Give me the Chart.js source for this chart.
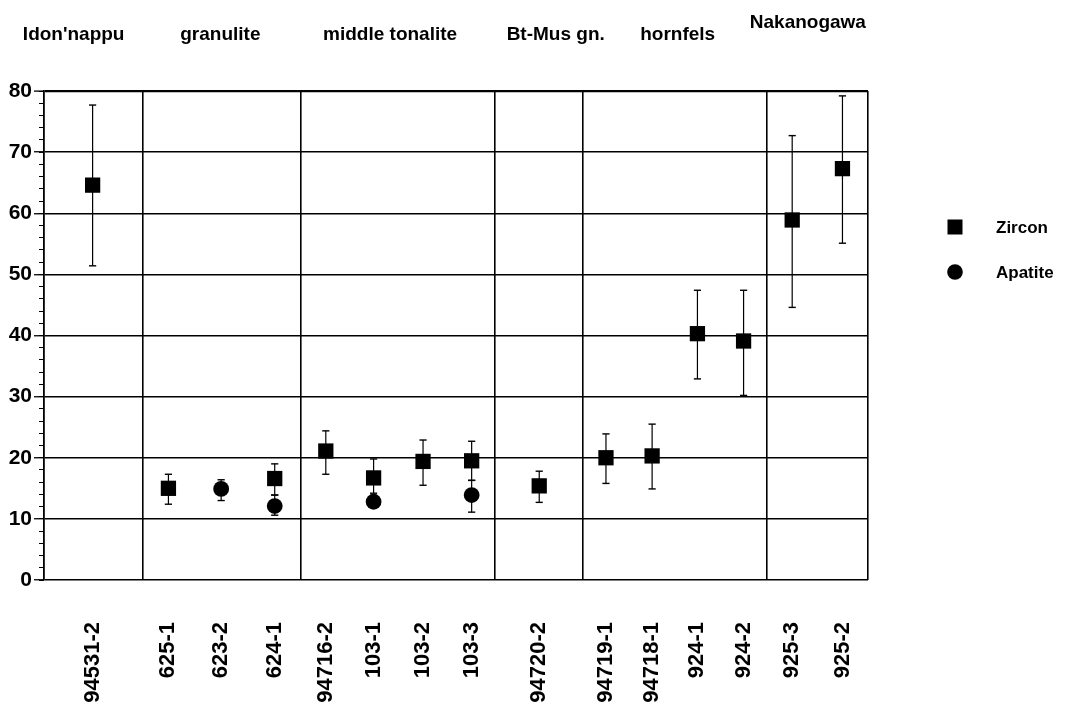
<!DOCTYPE html>
<html>
<head>
<meta charset="utf-8">
<script src="https://cdn.jsdelivr.net/npm/chart.js@4.4.1/dist/chart.umd.min.js"></script>
<style>
  html, body { margin: 0; padding: 0; background: #fff; }
  #wrap { width: 1066px; height: 705px; }
</style>
</head>
<body>
<div id="wrap"><canvas id="myChart" width="1066" height="705"></canvas></div>
<script>
// sample names along the bottom axis, and where they sit (axis units 0-100)
var sampleLabels = ["94531-2", "625-1", "623-2", "624-1", "94716-2", "103-1", "103-2", "103-3",
  "94720-2", "94719-1", "94718-1", "924-1", "924-2", "925-3", "925-2"];
var sampleX = [5.9, 15.1, 21.5, 28.0, 34.2, 40.0, 46.0, 51.9, 60.1, 68.2, 73.8, 79.3, 84.9, 90.8, 96.9];

// Zircon ages with error range
var zircon = [64.6, 15.0, null, 16.6, 21.1, 16.7, 19.4, 19.5, 15.4, 20.0, 20.3, 40.3, 39.1, 58.9, 67.3];
var zirconLow = [51.4, 12.4, null, 13.9, 17.3, 14.2, 15.5, 16.3, 12.7, 15.8, 14.9, 32.9, 30.2, 44.6, 55.1];
var zirconHigh = [77.7, 17.3, null, 19.0, 24.4, 19.8, 22.9, 22.7, 17.8, 23.9, 25.5, 47.4, 47.4, 72.7, 79.2];

// Apatite ages with error range
var apatite = [null, null, 14.9, 12.1, null, 12.8, null, 13.9, null, null, null, null, null, null, null];
var apatiteLow = [null, null, 13.0, 10.6, null, 12.0, null, 11.1, null, null, null, null, null, null, null];
var apatiteHigh = [null, null, 16.4, 13.9, null, 13.6, null, 16.3, null, null, null, null, null, null, null];

// rock groups: names on top and the separators between them
var groupNames = ["Idon'nappu", "granulite", "middle tonalite", "Bt-Mus gn.", "hornfels", "Nakanogawa"];
var groupCenter = [3.6, 21.4, 42.0, 62.1, 76.9, 92.7];
var groupBounds = [0, 11.93, 31.15, 54.73, 65.33, 87.7, 100];

var yTicks = [0, 10, 20, 30, 40, 50, 60, 70, 80];

var FONT = "'Liberation Sans', Arial, sans-serif";

function toPoints(values) {
  var pts = [];
  values.forEach(function (v, i) {
    if (v !== null) pts.push({ x: sampleX[i], y: v });
  });
  return pts;
}

function errorPoints(low, high) {
  var pts = [];
  low.forEach(function (lo, i) {
    if (lo === null) return;
    pts.push({ x: sampleX[i], y: lo }, { x: sampleX[i], y: high[i] }, { x: sampleX[i], y: null });
  });
  return pts;
}

function errorSet(low, high) {
  return {
    label: "err",
    data: errorPoints(low, high),
    showLine: true,
    spanGaps: false,
    borderColor: "#000",
    borderWidth: 1.2,
    pointStyle: "line",
    pointRadius: 3.6,
    pointBorderWidth: 1.4,
    pointBorderColor: "#000",
    order: 2,
  };
}

// group names above the plot + legend on the right
var sideText = {
  id: "sideText",
  afterDraw: function (chart) {
    var ctx = chart.ctx;
    var area = chart.chartArea;
    var xs = chart.scales.x;
    ctx.save();
    ctx.fillStyle = "#000";
    ctx.font = "bold 19px " + FONT;
    ctx.textAlign = "center";
    ctx.textBaseline = "alphabetic";
    groupNames.forEach(function (name, i) {
      var base = name === "Nakanogawa" ? 28 : 40;
      ctx.fillText(name, xs.getPixelForValue(groupCenter[i]), base);
    });

    // legend
    var mx = area.right + 87;
    var tx = area.right + 128;
    var y1 = area.top + 136;
    var y2 = area.top + 181;
    ctx.fillRect(mx - 7.5, y1 - 7.5, 15, 15);
    ctx.beginPath();
    ctx.arc(mx, y2, 7.8, 0, Math.PI * 2);
    ctx.fill();
    ctx.font = "bold 17px " + FONT;
    ctx.textAlign = "left";
    ctx.textBaseline = "middle";
    ctx.fillText("Zircon", tx, y1 + 1);
    ctx.fillText("Apatite", tx, y2 + 1);
    ctx.restore();
  },
};

var ctx = document.getElementById("myChart").getContext("2d");
var chartInstance = new Chart(ctx, {
  type: "scatter",
  data: {
    datasets: [
      {
        label: "Zircon",
        data: toPoints(zircon),
        pointStyle: "rect",
        pointRadius: 10.8,
        backgroundColor: "#000",
        borderColor: "#000",
        borderWidth: 0,
        order: 1,
      },
      {
        label: "Apatite",
        data: toPoints(apatite),
        pointStyle: "circle",
        pointRadius: 7.9,
        backgroundColor: "#000",
        borderColor: "#000",
        borderWidth: 0,
        order: 1,
      },
      errorSet(zirconLow, zirconHigh),
      errorSet(apatiteLow, apatiteHigh),
    ],
  },
  options: {
    responsive: false,
    animation: false,
    events: [],
    layout: { padding: { top: 91, right: 198, left: 0, bottom: 0 } },
    plugins: {
      legend: { display: false },
      tooltip: { enabled: false },
    },
    scales: {
      x: {
        type: "linear",
        position: "bottom",
        min: 0,
        max: 100,
        weight: 1,
        afterBuildTicks: function (scale) {
          scale.ticks = sampleX.map(function (v) { return { value: v }; });
        },
        afterFit: function (scale) { scale.height = 125; },
        ticks: {
          autoSkip: false,
          maxRotation: 90,
          minRotation: 90,
          padding: 42,
          color: "#000",
          font: { family: FONT, size: 22, weight: "bold" },
          callback: function (value, index) { return sampleLabels[index]; },
        },
        grid: { display: false, drawTicks: false },
        border: { display: false },
      },
      xg: {
        type: "linear",
        position: "bottom",
        min: 0,
        max: 100,
        weight: 0,
        afterBuildTicks: function (scale) {
          scale.ticks = groupBounds.map(function (v) { return { value: v }; });
        },
        afterFit: function (scale) { scale.height = 0; },
        ticks: { display: false },
        grid: { color: "#000", lineWidth: 1.6, drawTicks: false },
        border: { display: false },
      },
      y: {
        position: "left",
        min: 0,
        max: 80,
        weight: 1,
        afterBuildTicks: function (scale) {
          scale.ticks = yTicks.map(function (v) { return { value: v }; });
        },
        afterFit: function (scale) { scale.width = 44; },
        ticks: {
          padding: 2,
          color: "#000",
          font: { family: FONT, size: 21, weight: "bold" },
        },
        grid: {
          color: "#000",
          lineWidth: function (c) { return c.tick && c.tick.value === 80 ? 2.2 : 1.5; },
          tickLength: 10,
          tickColor: "#000",
          tickWidth: 1.3,
        },
        border: { display: true, color: "#000", width: 1.5 },
      },
      yMinor: {
        position: "left",
        min: 0,
        max: 80,
        weight: 0,
        afterFit: function (scale) { scale.width = 0; },
        ticks: { display: false, stepSize: 2 },
        grid: { drawOnChartArea: false, tickLength: 5, color: "#000", lineWidth: 1 },
        border: { display: false },
      },
    },
  },
  plugins: [sideText],
});
</script>
</body>
</html>
